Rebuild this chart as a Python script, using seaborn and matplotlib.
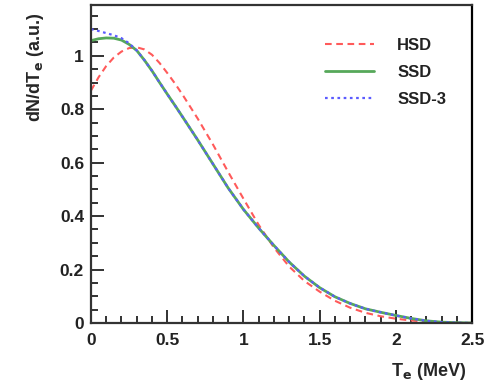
import numpy as np
import pandas as pd
import matplotlib
matplotlib.use("Agg")
import matplotlib.pyplot as plt
from matplotlib.ticker import MultipleLocator, FuncFormatter
import seaborn as sns

# Electron kinetic energy T_e (MeV)
te = [0.0, 0.05, 0.1, 0.15, 0.2, 0.25, 0.3, 0.35, 0.4, 0.45, 0.5, 0.55,
      0.6, 0.7, 0.8, 0.9, 1.0, 1.1, 1.2, 1.3, 1.4, 1.5, 1.6, 1.7, 1.8,
      1.9, 2.0, 2.1, 2.2, 2.3, 2.4, 2.5]

hsd = [0.870, 0.920, 0.962, 0.994, 1.016, 1.029, 1.032, 1.024, 1.004, 0.973,
       0.936, 0.897, 0.855, 0.765, 0.668, 0.565, 0.465, 0.367, 0.282, 0.211,
       0.157, 0.117, 0.083, 0.057, 0.038, 0.025, 0.016, 0.009, 0.005, 0.002,
       0.0005, 0.0]

ssd = [1.057, 1.064, 1.067, 1.066, 1.059, 1.043, 1.020, 0.984, 0.944, 0.900,
       0.857, 0.815, 0.772, 0.685, 0.595, 0.505, 0.425, 0.355, 0.290, 0.228,
       0.175, 0.132, 0.098, 0.073, 0.053, 0.040, 0.028, 0.017, 0.008, 0.003,
       0.001, 0.0]

ssd3 = [1.100, 1.093, 1.085, 1.077, 1.066, 1.047, 1.020, 0.984, 0.944, 0.900,
        0.857, 0.815, 0.772, 0.685, 0.595, 0.505, 0.425, 0.355, 0.290, 0.228,
        0.175, 0.132, 0.098, 0.073, 0.053, 0.040, 0.028, 0.017, 0.008, 0.003,
        0.001, 0.0]

labels = ["HSD", "SSD", "SSD-3"]
xticks = [0, 0.5, 1, 1.5, 2, 2.5]
yticks = [0, 0.2, 0.4, 0.6, 0.8, 1.0]

sns.set_style("ticks")
plt.rcParams["font.family"] = ["Liberation Sans", "DejaVu Sans"]
plt.rcParams["font.weight"] = "bold"

fig = plt.figure(figsize=(4.85, 3.91), dpi=100)
ax = fig.add_axes([0.1876, 0.174, 0.786, 0.813])

df = pd.DataFrame({"te": te, "HSD": hsd, "SSD": ssd, "SSD-3": ssd3})

sns.lineplot(data=df, x="te", y="HSD", ax=ax, color="#ff5a5a",
             linestyle=(0, (3.2, 2.2)), linewidth=1.5, label=labels[0])
sns.lineplot(data=df, x="te", y="SSD", ax=ax, color="#56a85a",
             linestyle="-", linewidth=2.0, label=labels[1])
sns.lineplot(data=df, x="te", y="SSD-3", ax=ax, color="#5b5bff",
             linestyle=(0, (1.2, 1.6)), linewidth=1.6, label=labels[2])

ax.set_xlim(0, 2.5)
ax.set_ylim(0, 1.19)
ax.set_xticks(xticks)
ax.set_yticks(yticks)
fmt = FuncFormatter(lambda v, p: "%g" % v)
ax.xaxis.set_major_formatter(fmt)
ax.yaxis.set_major_formatter(fmt)
ax.xaxis.set_minor_locator(MultipleLocator(0.1))
ax.yaxis.set_minor_locator(MultipleLocator(0.05))

ax.tick_params(which="both", direction="in", top=False, right=False,
               colors="#222222", width=1.3, labelsize=12.5)
ax.tick_params(which="major", length=9.5)
ax.tick_params(which="minor", length=5)
ax.tick_params(axis="x", pad=7)
ax.tick_params(axis="y", pad=5)
for lab in ax.get_xticklabels() + ax.get_yticklabels():
    lab.set_fontweight("bold")

for s in ax.spines.values():
    s.set_visible(True)
    s.set_linewidth(1.6)
    s.set_color("#333333")
ax.spines["right"].set_color("#000000")

ax.set_xlabel(r"T$_{\mathbf{e}}$ (MeV)", fontsize=13, fontweight="bold", loc="right")
ax.set_ylabel(r"dN/dT$_{\mathbf{e}}$ (a.u.)", fontsize=13, fontweight="bold", loc="top")
ax.xaxis.set_label_coords(0.985, -0.12)
ax.yaxis.set_label_coords(-0.118, 0.975)

leg = ax.legend(loc="upper left", bbox_to_anchor=(0.615, 0.898), frameon=False,
                fontsize=12, handlelength=2.9, handletextpad=1.4,
                labelspacing=0.72, borderpad=0, borderaxespad=0)
for t in leg.get_texts():
    t.set_fontweight("bold")
    t.set_color("#222222")

fig.savefig("out.png", dpi=100)
